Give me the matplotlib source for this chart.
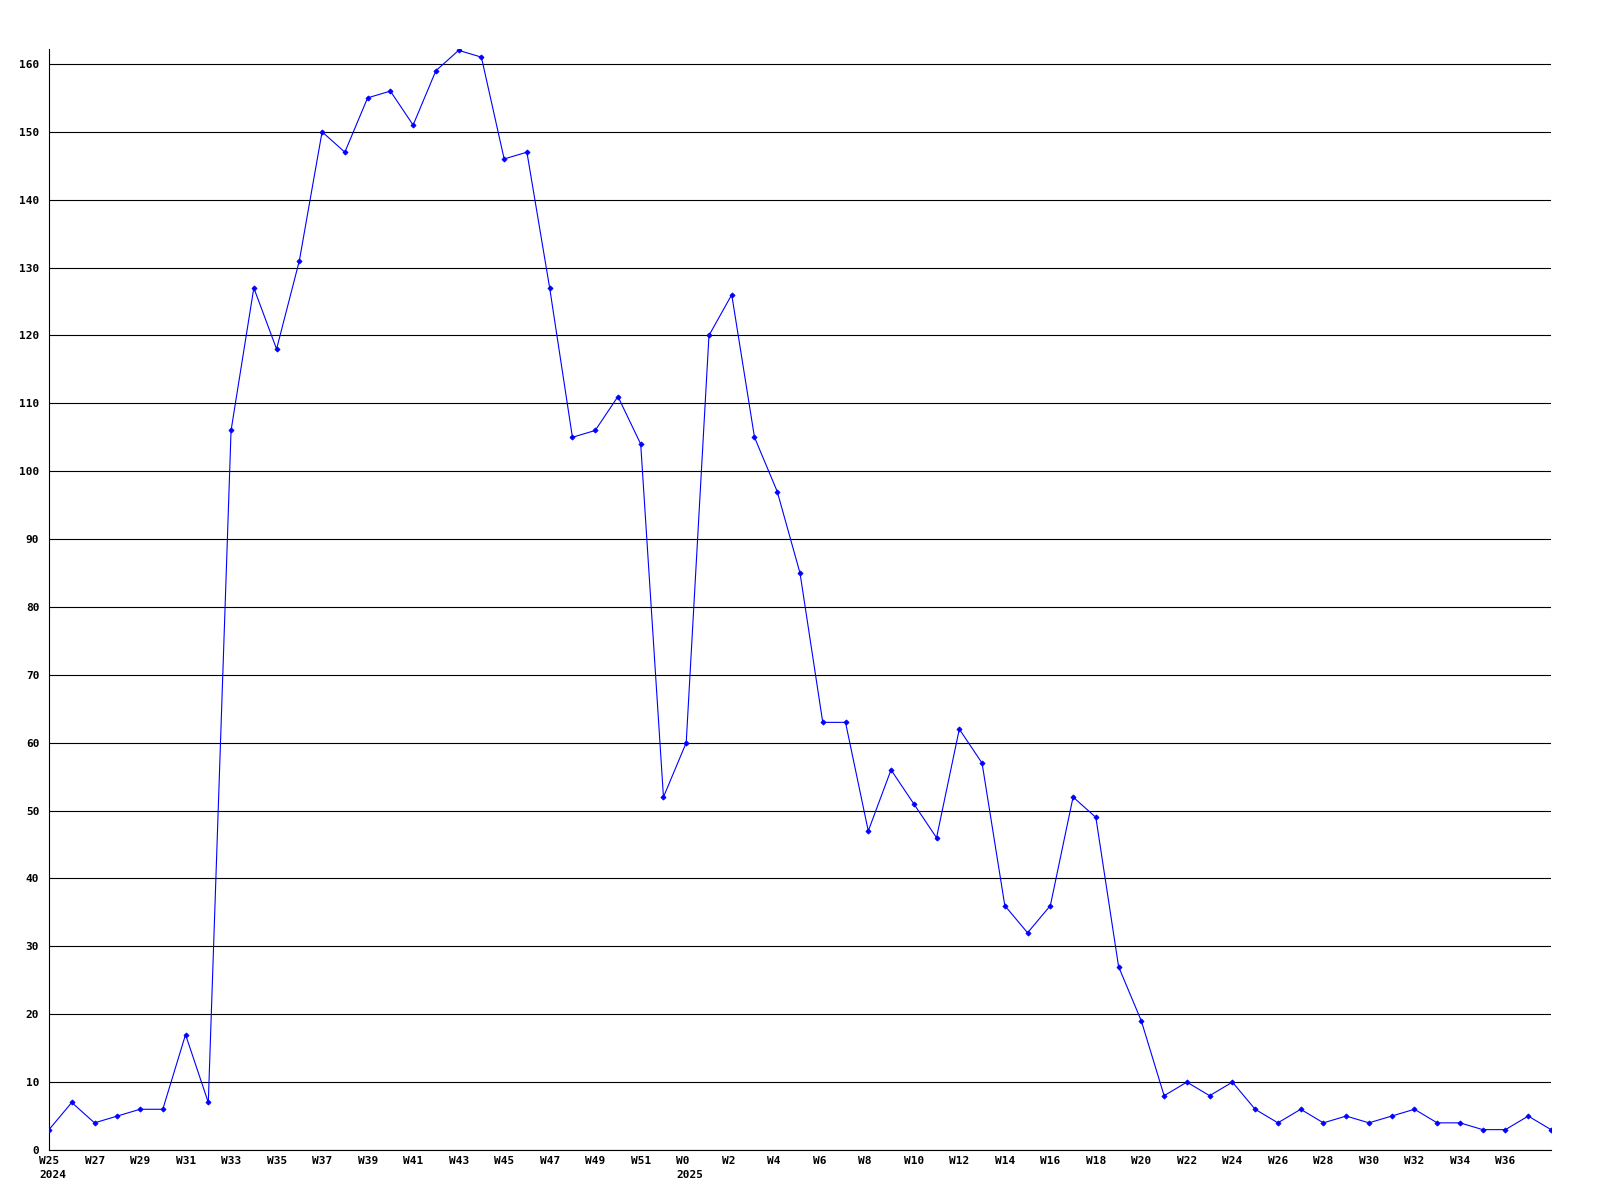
import matplotlib.pyplot as plt
import matplotlib.transforms as mtransforms

# Weekly counts, W25 2024 .. W38 2025
weeks = list(range(25, 53)) + list(range(0, 39))
values = [3, 7, 4, 5, 6, 6, 17, 7, 106, 127, 118, 131, 150, 147, 155, 156,
          151, 159, 162, 161, 146, 147, 127, 105, 106, 111, 104, 52,
          60, 120, 126, 105, 97, 85, 63, 63, 47, 56, 51, 46, 62, 57, 36, 32,
          36, 52, 49, 27, 19, 8, 10, 8, 10, 6, 4, 6, 4, 5, 4, 5, 6, 4, 4, 3,
          3, 5, 3]
year_starts = {0: "2024", 28: "2025"}

x = list(range(len(values)))

fig = plt.figure(figsize=(16, 12), dpi=100)
ax = fig.add_axes([49 / 1600, 50 / 1200, 1502 / 1600, 1101 / 1200])

ax.plot(x, values, color='#0000ff', linewidth=0.8, marker='D', markersize=2.6,
        markeredgewidth=0.6, zorder=3)

ax.set_xlim(0, len(values) - 1)
ax.set_ylim(0, 162.2)

# y gridlines and ticks
ax.set_yticks(range(0, 161, 10))
ax.grid(axis='y', color='black', linewidth=0.8)
ax.set_axisbelow(True)

# x ticks every two weeks (last point unlabelled), year under first label of each year
xt = x[:-1:2]
labels = []
for i in xt:
    lab = f"W{weeks[i]}"
    if i in year_starts:
        lab += "\n" + year_starts[i]
    labels.append(lab)
ax.set_xticks(xt)
ax.set_xticklabels(labels)

for s in ['top', 'right']:
    ax.spines[s].set_visible(False)
for s in ['left', 'bottom']:
    ax.spines[s].set_linewidth(0.8)
    ax.spines[s].set_color('black')

ax.tick_params(axis='both', length=0, labelsize=8)
ax.tick_params(axis='y', pad=7)
ax.tick_params(axis='x', pad=4)

offset = mtransforms.ScaledTranslation(-10 / 100, 0, fig.dpi_scale_trans)
for t in ax.get_xticklabels():
    t.set_horizontalalignment('left')
    t.set_multialignment('left')
    t.set_linespacing(1.6)
    t.set_transform(t.get_transform() + offset)
for t in ax.get_xticklabels() + ax.get_yticklabels():
    t.set_fontfamily('DejaVu Sans Mono')
    t.set_fontweight('bold')

fig.savefig('out.png', dpi=100)
